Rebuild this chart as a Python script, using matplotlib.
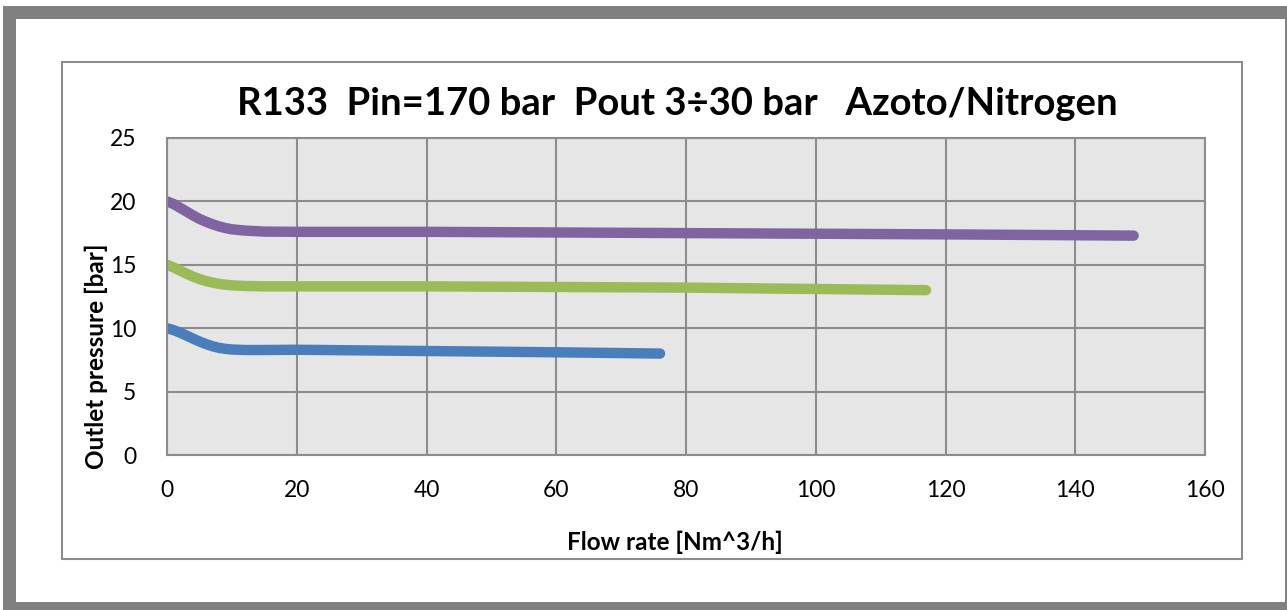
import matplotlib.pyplot as plt
from matplotlib.patches import Rectangle

plt.rcParams['font.family'] = ['Lato', 'DejaVu Sans']

# curve data
flow_10 = [0, 1, 2, 3, 4, 5, 6, 7, 8, 9, 10, 12, 15, 20, 40, 60, 76]
p_10 = [10.0, 9.85, 9.65, 9.42, 9.18, 8.95, 8.75, 8.58, 8.45, 8.37, 8.32, 8.28, 8.28, 8.3, 8.2, 8.1, 8.0]
flow_15 = [0, 1, 2, 3, 4, 5, 6, 7, 8, 9, 10, 12, 15, 20, 40, 80, 117]
p_15 = [15.0, 14.8, 14.55, 14.3, 14.07, 13.88, 13.72, 13.6, 13.5, 13.43, 13.38, 13.33, 13.3, 13.3, 13.3, 13.2, 13.0]
flow_20 = [0, 1, 2, 3, 4, 5, 6, 7, 8, 9, 10, 12, 15, 20, 40, 80, 120, 149]
p_20 = [20.0, 19.8, 19.5, 19.2, 18.9, 18.62, 18.4, 18.2, 18.03, 17.9, 17.8, 17.7, 17.62, 17.6, 17.6, 17.5, 17.4, 17.3]

W, H = 1287, 610
fig = plt.figure(figsize=(W / 100, H / 100), dpi=100)

def fx(px):
    return px / W

def fy(py):
    return 1 - py / H

# outer gray frame and inner chart box
fig.patches.append(Rectangle((fx(3), fy(612)), fx(1290), 606 / H, transform=fig.transFigure,
                             facecolor='#808080', edgecolor='none', zorder=-3))
fig.patches.append(Rectangle((fx(16), fy(602)), fx(1269), 583 / H, transform=fig.transFigure,
                             facecolor='white', edgecolor='none', zorder=-2))
fig.patches.append(Rectangle((fx(62), fy(559)), fx(1180), 497 / H, transform=fig.transFigure,
                             facecolor='white', edgecolor='#8c8c8c', linewidth=1.5, zorder=-1))

ax = fig.add_axes([fx(167), fy(455), fx(1205 - 167), (455 - 138) / H])
ax.set_facecolor('#e6e6e6')

ax.plot(flow_10, p_10, color='#4a7ebb', lw=7.5, solid_capstyle='round', solid_joinstyle='round')
ax.plot(flow_15, p_15, color='#9bbb59', lw=7.5, solid_capstyle='round', solid_joinstyle='round')
ax.plot(flow_20, p_20, color='#8064a2', lw=7.5, solid_capstyle='round', solid_joinstyle='round')

ax.set_xlim(0, 160)
ax.set_ylim(0, 25)
ax.set_xticks(range(0, 161, 20))
ax.set_yticks(range(0, 26, 5))
ax.grid(True, color='#8c8c8c', lw=1.5)
ax.set_axisbelow(True)
for s in ax.spines.values():
    s.set_color('#8c8c8c')
    s.set_linewidth(1.5)
ax.tick_params(length=0, labelsize=16.5)
ax.tick_params(axis='x', pad=18)
ax.tick_params(axis='y', pad=22)

fig.text(fx(677), fy(104), 'R133  Pin=170 bar  Pout 3÷30 bar   Azoto/Nitrogen',
         ha='center', va='center', fontsize=27.5, fontweight='bold')
fig.text(fx(675), fy(542), 'Flow rate [Nm^3/h]', ha='center', va='center',
         fontsize=17.5, fontweight='bold')
fig.text(fx(96), fy(356), 'Outlet pressure [bar]', ha='center', va='center',
         rotation=90, fontsize=17.5, fontweight='bold')

fig.savefig('out.png', dpi=100)
